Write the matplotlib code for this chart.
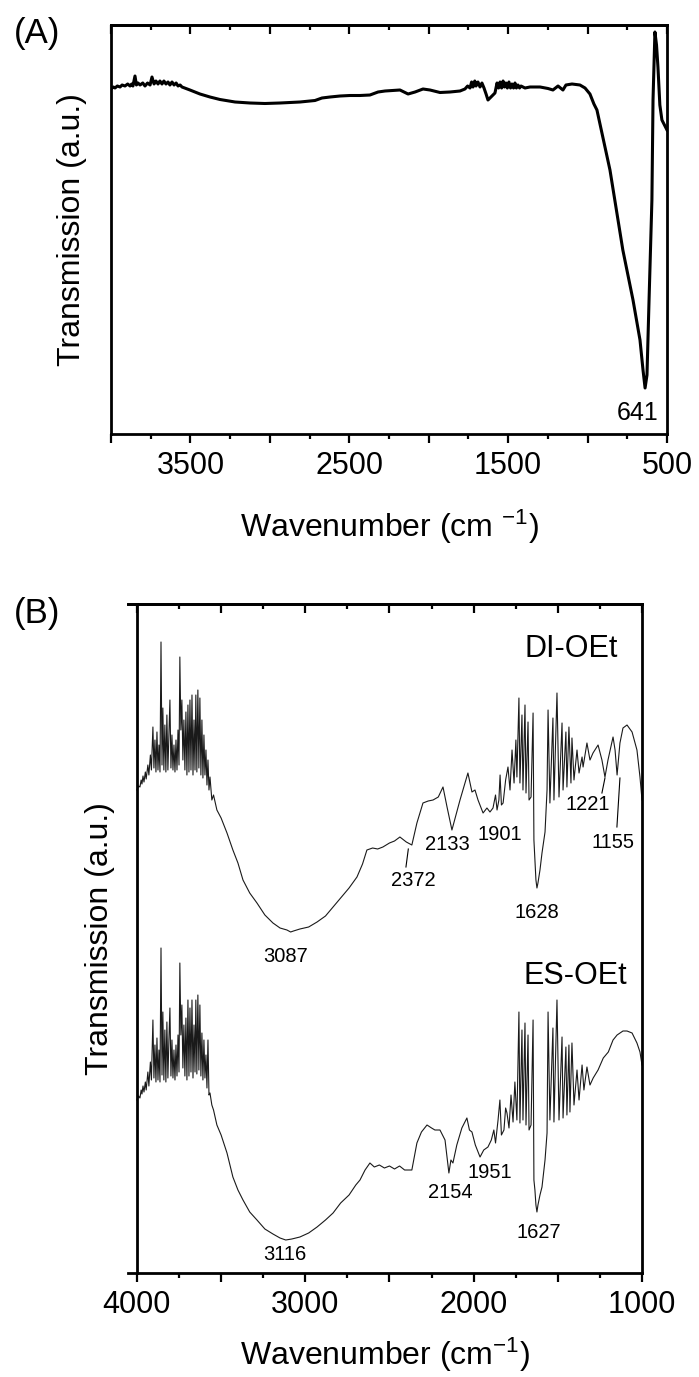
import matplotlib
matplotlib.use("Agg")
import matplotlib.pyplot as plt
from matplotlib.ticker import MultipleLocator

plt.rcParams['font.family'] = ['Liberation Sans', 'DejaVu Sans']
plt.rcParams['mathtext.default'] = 'regular'

# ---- (A) spectrum, wavenumber (cm-1) and transmission (a.u.) ----
wn_a = [4000, 3985, 3975, 3960, 3943, 3930, 3912, 3895, 3880, 3870,
        3862, 3849, 3840, 3830, 3817, 3800, 3786, 3770, 3754, 3742,
        3729, 3717, 3704, 3692, 3679, 3667, 3654, 3641, 3629, 3616,
        3603, 3590, 3578, 3565, 3553, 3503, 3440, 3377, 3314, 3219,
        3125, 3031, 2936, 2810, 2716, 2672, 2621, 2558, 2496, 2433,
        2370, 2319, 2275, 2181, 2130, 2086, 2036, 1992, 1929, 1866,
        1803, 1772, 1755, 1740, 1730, 1721, 1710, 1702, 1690, 1677,
        1665, 1652, 1639, 1627, 1608, 1583, 1570, 1560, 1551, 1541,
        1532, 1523, 1514, 1505, 1495, 1485, 1476, 1466, 1457, 1448,
        1438, 1428, 1419, 1394, 1362, 1299, 1249, 1218, 1186, 1155,
        1136, 1098, 1048, 1016, 985, 960, 941, 859, 778, 714,
        670, 651, 638, 626, 613, 595, 588, 576, 566, 557,
        545, 532, 500]
t_a = [345, 347, 346, 348, 347, 349, 348, 350, 348, 350,
       348, 358, 349, 351, 349, 351, 348, 351, 349, 357,
       350, 353, 350, 353, 350, 353, 350, 352, 349, 352,
       349, 351, 348, 349, 347, 344, 340, 337, 334.5, 332,
       331, 330.5, 331, 332, 333.5, 336, 337, 338, 338.5, 338.5,
       339, 342, 343, 344, 340, 342, 345, 344, 341.5, 342,
       343, 345, 348, 346, 352, 347, 353, 348, 352, 347,
       351, 346, 340, 334, 337, 341, 351, 346, 352, 346,
       353, 347, 351, 346, 352, 346, 350, 346, 351, 346,
       349, 346, 348, 346, 347, 347, 345.5, 344, 348, 344,
       349, 350, 349, 346, 340, 330, 324, 264, 184, 134,
       94, 64, 46, 59, 134, 234, 334, 402, 389, 367,
       329, 314, 304]

# ---- (B) DI-OEt ----
wn_di = [4000, 3990, 3982, 3975, 3970, 3964, 3958, 3950, 3945, 3935,
         3929, 3920, 3914, 3905, 3899, 3893, 3887, 3881, 3875, 3869,
         3863, 3857, 3851, 3846, 3840, 3834, 3828, 3822, 3816, 3810,
         3804, 3798, 3792, 3786, 3780, 3774, 3768, 3762, 3756, 3750,
         3745, 3739, 3733, 3727, 3721, 3715, 3709, 3703, 3697, 3691,
         3685, 3679, 3673, 3667, 3661, 3655, 3650, 3644, 3638, 3632,
         3626, 3620, 3614, 3608, 3602, 3596, 3590, 3584, 3578, 3572,
         3566, 3555, 3545, 3525, 3500, 3465, 3430, 3400, 3370, 3330,
         3287, 3240, 3192, 3150, 3109, 3087, 3070, 3032, 2980, 2930,
         2880, 2835, 2780, 2740, 2693, 2660, 2634, 2600, 2570, 2539,
         2500, 2470, 2438, 2400, 2367, 2337, 2301, 2270, 2241, 2210,
         2182, 2158, 2129, 2105, 2081, 2055, 2034, 2010, 1992, 1974,
         1944, 1921, 1903, 1885, 1870, 1861, 1850, 1843, 1835, 1825,
         1810, 1796, 1784, 1772, 1760, 1749, 1743, 1731, 1725, 1713,
         1707, 1695, 1689, 1677, 1671, 1659, 1647, 1642, 1630, 1624,
         1618, 1606, 1594, 1576, 1564, 1558, 1547, 1529, 1523, 1505,
         1493, 1475, 1469, 1452, 1446, 1434, 1422, 1416, 1404, 1386,
         1374, 1356, 1350, 1327, 1309, 1291, 1261, 1238, 1220, 1202,
         1172, 1160, 1148, 1131, 1113, 1089, 1059, 1030, 1012, 1000]
t_di = [483, 487, 486, 493, 489, 497, 491, 501, 494, 508,
        498, 518, 503, 546, 505, 533, 501, 541, 503, 528,
        501, 631, 508, 565, 503, 548, 501, 558, 503, 538,
        573, 505, 538, 503, 528, 501, 533, 503, 543, 508,
        616, 543, 573, 513, 553, 503, 561, 498, 568, 501,
        573, 503, 578, 498, 553, 503, 578, 501, 583, 505,
        575, 498, 553, 495, 538, 498, 523, 488, 513, 483,
        496, 473, 478, 463, 455, 440, 423, 410, 393, 380,
        370, 358, 350, 345, 343, 341, 342, 344, 346, 351,
        357, 366, 377, 385, 396, 409, 423, 425, 424, 426,
        430, 432, 436, 431, 428, 450, 470, 472, 473, 476,
        486, 466, 443, 458, 473, 488, 500, 481, 483, 473,
        460, 465, 461, 465, 478, 463, 473, 498, 468, 470,
        493, 506, 483, 523, 490, 533, 496, 575, 490, 558,
        483, 568, 480, 551, 473, 476, 560, 433, 393, 385,
        390, 403, 420, 441, 483, 563, 470, 555, 473, 580,
        476, 550, 483, 541, 486, 546, 490, 535, 493, 523,
        500, 516, 506, 530, 513, 520, 528, 513, 496, 513,
        536, 523, 498, 530, 545, 548, 541, 523, 496, 473]

# ---- (B) ES-OEt ----
wn_es = [4000, 3990, 3982, 3975, 3970, 3964, 3958, 3950, 3945, 3935,
         3929, 3920, 3914, 3905, 3899, 3893, 3887, 3881, 3875, 3869,
         3863, 3857, 3851, 3846, 3840, 3834, 3828, 3822, 3816, 3810,
         3804, 3798, 3792, 3786, 3780, 3774, 3768, 3762, 3756, 3750,
         3745, 3739, 3733, 3727, 3721, 3715, 3709, 3703, 3697, 3691,
         3685, 3679, 3673, 3667, 3661, 3655, 3650, 3644, 3638, 3632,
         3626, 3620, 3614, 3608, 3602, 3596, 3590, 3584, 3578, 3572,
         3566, 3555, 3545, 3525, 3500, 3465, 3430, 3400, 3370, 3330,
         3287, 3240, 3192, 3150, 3116, 3080, 3032, 2980, 2930, 2880,
         2835, 2790, 2740, 2700, 2675, 2645, 2616, 2590, 2560, 2530,
         2500, 2470, 2440, 2410, 2367, 2350, 2337, 2310, 2277, 2250,
         2230, 2200, 2170, 2147, 2135, 2123, 2100, 2070, 2040, 2025,
         2010, 1990, 1962, 1940, 1915, 1895, 1880, 1870, 1855, 1844,
         1835, 1820, 1810, 1802, 1790, 1778, 1766, 1755, 1743, 1731,
         1725, 1713, 1707, 1695, 1689, 1677, 1671, 1659, 1647, 1642,
         1636, 1630, 1624, 1618, 1606, 1594, 1576, 1564, 1558, 1547,
         1529, 1523, 1505, 1493, 1475, 1469, 1452, 1446, 1434, 1428,
         1416, 1404, 1386, 1374, 1356, 1345, 1327, 1309, 1290, 1261,
         1230, 1200, 1172, 1148, 1113, 1089, 1059, 1030, 1012, 1000]
t_es = [173, 177, 175, 183, 179, 187, 181, 191, 183, 201,
        187, 211, 193, 253, 195, 228, 191, 235, 193, 223,
        191, 325, 198, 261, 193, 243, 191, 251, 195, 233,
        265, 197, 233, 195, 223, 193, 228, 197, 238, 201,
        310, 238, 268, 205, 248, 197, 255, 193, 273, 197,
        265, 201, 273, 195, 248, 201, 273, 199, 278, 203,
        268, 197, 240, 193, 233, 195, 218, 185, 233, 178,
        180, 168, 163, 148, 138, 120, 96, 83, 73, 61,
        53, 44, 39, 35, 33, 34, 36, 40, 46, 53,
        60, 70, 78, 88, 93, 103, 110, 106, 108, 105,
        107, 104, 107, 103, 103, 118, 130, 141, 148, 145,
        143, 143, 133, 100, 113, 110, 128, 145, 155, 143,
        141, 128, 116, 123, 126, 133, 143, 130, 153, 173,
        138, 143, 165, 160, 145, 178, 151, 191, 153, 261,
        150, 243, 153, 250, 148, 238, 143, 148, 253, 93,
        83, 68, 61, 68, 78, 86, 113, 140, 261, 153,
        245, 151, 273, 153, 236, 155, 226, 158, 228, 161,
        230, 168, 203, 173, 208, 183, 206, 188, 195, 203,
        215, 221, 233, 238, 242, 242, 240, 230, 221, 208]

ticks_a = [4000, 3500, 3000, 2500, 2000, 1500, 1000, 500]
ticklabels_a = ['', '3500', '', '2500', '', '1500', '', '500']
ticks_b = [4000, 3500, 3000, 2500, 2000, 1500, 1000]
ticklabels_b = ['4000', '', '3000', '', '2000', '', '1000']


def style_axis(ax, ticks, labels):
    ax.set_xticks(ticks, labels)
    ax.xaxis.set_minor_locator(MultipleLocator(250))
    ax.tick_params(axis='x', which='major', direction='out', length=6.5,
                   width=1.6, labelsize=22, pad=6)
    ax.tick_params(axis='x', which='minor', direction='out', length=3.8, width=1.6)
    ax.set_yticks([])
    for s in ax.spines.values():
        s.set_linewidth(2)
    # inward ticks along the top edge
    top = ax.twiny()
    top.set_xlim(ax.get_xlim())
    top.set_xticks(ticks, [''] * len(ticks))
    top.xaxis.set_minor_locator(MultipleLocator(250))
    top.tick_params(axis='x', which='both', direction='in', width=1.6,
                    top=True, bottom=False)
    top.tick_params(axis='x', which='major', length=6.5)
    top.tick_params(axis='x', which='minor', length=3.8)
    for name in ['left', 'right', 'bottom']:
        top.spines[name].set_visible(False)
    top.spines['top'].set_linewidth(2)


fig = plt.figure(figsize=(6.99, 13.77), dpi=100)

# ~~~ panel A
ax_a = fig.add_axes([111 / 699, 1 - 434 / 1377, 556 / 699, 409 / 1377])
ax_a.plot(wn_a, t_a, color='black', lw=2.2)
ax_a.set_xlim(4000, 500)
ax_a.set_ylim(0, 409)
style_axis(ax_a, ticks_a, ticklabels_a)
ax_a.set_ylabel('Transmission (a.u.)', fontsize=23)
ax_a.yaxis.set_label_coords(-0.043, 0.5)
ax_a.set_xlabel(r'Wavenumber (cm $^{-1}$)', fontsize=23)
ax_a.xaxis.set_label_coords(0.5, -0.18)
ax_a.text(683, 21, '641', fontsize=18, ha='center', va='center')

# ~~~ panel B
ax_b = fig.add_axes([128 / 699, 1 - 1273 / 1377, 514 / 699, 669 / 1377])
ax_b.plot(wn_di, t_di, color='#1a1a1a', lw=0.8)
ax_b.plot(wn_es, t_es, color='#1a1a1a', lw=0.8)
ax_b.set_xlim(4053, 1000)
ax_b.set_ylim(0, 669)
ax_b.spines['left'].set_position(('data', 4000))
style_axis(ax_b, ticks_b, ticklabels_b)
ax_b.set_ylabel('Transmission (a.u.)', fontsize=23)
ax_b.yaxis.set_label_coords(-0.025, 0.5)
ax_b.set_xlabel(r'Wavenumber (cm$^{-1}$)', fontsize=23)
ax_b.xaxis.set_label_coords(0.5, -0.093)

ax_b.text(1695, 624, 'DI-OEt', fontsize=22, ha='left', va='center')
ax_b.text(1701, 297, 'ES-OEt', fontsize=22, ha='left', va='center')

peak_labels = ['3087', '2372', '2133', '1901', '1628', '1221', '1155',
               '3116', '2154', '1951', '1627']
label_pos = [(3115, 316), (2360, 393), (2158, 428), (1844, 438), (1624, 361),
             (1321, 468), (1172, 431),
             (3121, 18), (2141, 80), (1903, 100), (1612, 40)]
for txt, (x, y) in zip(peak_labels, label_pos):
    ax_b.text(x, y, txt, fontsize=14.5, ha='center', va='center')

# leader lines
ax_b.plot([2388, 2402], [424, 406], color='black', lw=0.8)
ax_b.plot([1220, 1238], [495, 480], color='black', lw=0.8)
ax_b.plot([1131, 1149], [495, 446], color='black', lw=0.8)

fig.text(37 / 699, 1 - 34 / 1377, '(A)', fontsize=25, ha='center', va='center')
fig.text(37 / 699, 1 - 614 / 1377, '(B)', fontsize=25, ha='center', va='center')

fig.savefig('out.png', dpi=100)
